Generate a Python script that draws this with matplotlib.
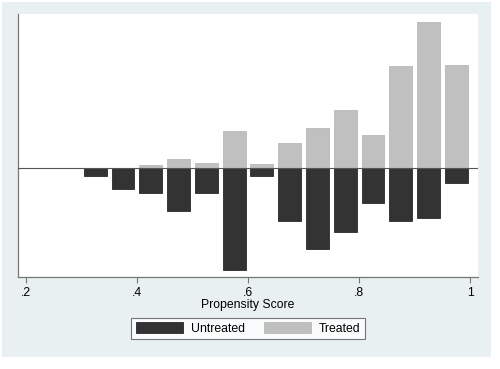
import matplotlib
matplotlib.use("Agg")
import matplotlib.pyplot as plt
from matplotlib.patches import Rectangle, Patch
import numpy as np

# bin centres of the propensity score histogram (width .05)
bin_centres = [0.325, 0.375, 0.425, 0.475, 0.525, 0.575, 0.625,
               0.675, 0.725, 0.775, 0.825, 0.875, 0.925, 0.975]
treated = [0.0, 0.0, 0.033, 0.09, 0.053, 0.37, 0.04,
           0.25, 0.40, 0.58, 0.33, 1.02, 1.46, 1.03]
untreated = [0.075, 0.21, 0.25, 0.425, 0.25, 1.02, 0.075,
             0.525, 0.805, 0.635, 0.35, 0.53, 0.495, 0.145]
xticks = [0.2, 0.4, 0.6, 0.8, 1.0]
xticklabels = [".2", ".4", ".6", ".8", "1"]

DARK = "#333333"
LIGHT = "#c0c0c0"
REGION = "#e9f0f2"
plt.rcParams["font.family"] = ["Liberation Sans", "DejaVu Sans"]

fig = plt.figure(figsize=(5.0, 3.69), dpi=100)
fig.patch.set_facecolor("white")
fig.patches.append(Rectangle((0.004, 0.0325), 0.978, 0.962, transform=fig.transFigure,
                             facecolor=REGION, edgecolor="none", zorder=-10))

ax = fig.add_axes([0.036, 0.2493, 0.92, 0.7127])
ax.set_facecolor("white")
x = np.array(bin_centres)
ax.bar(x, treated, width=0.041, color=LIGHT, edgecolor="#b8b8b8", lw=0.6, zorder=2)
ax.bar(x, -np.array(untreated), width=0.041, color=DARK, edgecolor="#2a2a2a", lw=0.6, zorder=2)
ax.axhline(0, color="#555555", lw=0.8, zorder=3)

ax.set_xlim(0.1856, 1.0144)
ax.set_ylim(-1.09, 1.54)
ax.set_xticks(xticks)
ax.set_xticklabels(xticklabels, fontsize=8.8)
ax.set_yticks([])
ax.tick_params(axis="x", length=4, width=0.8, color="#777777", pad=3)
for s in ("top", "right"):
    ax.spines[s].set_visible(False)
for s in ("left", "bottom"):
    ax.spines[s].set_color("#777777")
    ax.spines[s].set_linewidth(0.9)
ax.set_xlabel("Propensity Score", fontsize=8.8, labelpad=0)

handles = [Patch(facecolor=DARK, edgecolor="#2a2a2a", lw=0.6),
           Patch(facecolor=LIGHT, edgecolor="#b8b8b8", lw=0.6)]
leg = fig.legend(handles, ["Untreated", "Treated"], loc="center", ncol=2,
                 bbox_to_anchor=(0.496, 0.1098), fontsize=8.8, frameon=True,
                 fancybox=False, handlelength=3.85, handleheight=1.0,
                 handletextpad=0.65, columnspacing=1.55, borderpad=0.35)
leg.get_frame().set_edgecolor("#555555")
leg.get_frame().set_linewidth(0.8)

fig.savefig("out.png", dpi=100, facecolor="white")
